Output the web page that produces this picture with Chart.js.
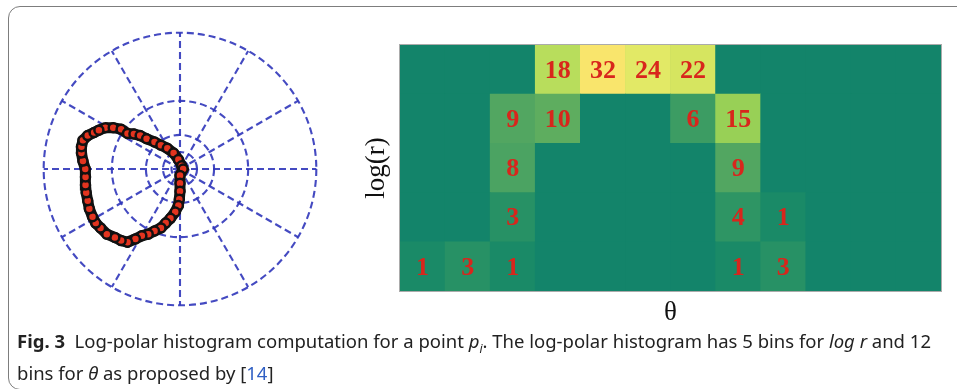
<!DOCTYPE html>
<html>
<head>
<meta charset="utf-8">
<script src="https://cdn.jsdelivr.net/npm/chart.js@4.4.1/dist/chart.umd.min.js"></script>
<style>
body{margin:0;background:#fff;width:957px;height:389px;overflow:hidden;position:relative;font-family:"Noto Sans",sans-serif}
.frame{position:absolute;left:8px;top:6px;width:1000px;height:382px;border:1.5px solid #7d7d7d;border-radius:12px}
#polar{position:absolute;left:30px;top:19px}
#hist{position:absolute;left:360px;top:35px}
.caption{position:absolute;left:17px;top:329px;font-size:18.5px;line-height:24px;color:#222;white-space:nowrap}
.caption b{font-weight:700}
.caption .ref{color:#2f5fc4}
</style>
</head>
<body>
<div class="frame"></div>
<canvas id="polar" width="300" height="300"></canvas>
<canvas id="hist" width="590" height="295"></canvas>
<div class="caption" id="caption"><b>Fig. 3</b>&nbsp; Log-polar histogram computation for a point <i>p<sub style="font-size:12px">i</sub></i>. The log-polar histogram has 5 bins for <i>log r</i> and 12<br>bins for <i>θ</i> as proposed by [<span class="ref">14</span>]</div>
<script>
// contour of the shape (outer ring = 100)
const contourX = [-54.8,-49,-43.2,-38.5,-33.8,-29.2,-24.5,-18.7,-14,-9.3,-4.7,-1.2,1.2,2.3,0,0,0,-0.5,-1.2,-3.5,-7,-10.5,-14,-18.7,-23.3,-28,-32.7,-38.5,-43.2,-47.8,-53.7,-58.3,-61.8,-64.2,-66.5,-67.7,-68.8,-69.3,-69.3,-69.5,-71.2,-72.3,-72.3,-71.2,-67.7,-63,-59.5];
const contourY = [30.3,30.3,29.2,26.1,25.7,24.5,22.2,19.8,17.5,15.2,11.7,7,2.3,0,-4.7,-10.5,-16.3,-22.2,-26.8,-31.5,-36.2,-39.7,-43.2,-45.5,-47.8,-49,-51.3,-53.7,-52.5,-50.2,-47.8,-43.2,-39.7,-35,-29.2,-23.3,-17.5,-11.7,-5.8,0,5.8,11.7,16.3,21,24.5,26.8,28.5];
const ringRadii = [6.25, 12.5, 25, 50, 100];
const spokeAngles = [0, 30, 60, 90, 120, 150, 180, 210, 240, 270, 300, 330];

// histogram: 12 theta bins, 5 log r bins (r1 = bottom row)
const thetaBins = ['1','2','3','4','5','6','7','8','9','10','11','12'];
const logRBins = ['1','2','3','4','5'];
const countsR1 = [1,3,1,0,0,0,0,1,3,0,0,0];
const countsR2 = [0,0,3,0,0,0,0,4,1,0,0,0];
const countsR3 = [0,0,8,0,0,0,0,9,0,0,0,0];
const countsR4 = [0,0,9,10,0,0,6,15,0,0,0,0];
const countsR5 = [0,0,0,18,32,24,22,0,0,0,0,0];

const colorStops = [
    [0, [19,132,106]], [1, [26,138,103]], [4, [46,149,100]], [9, [82,166,97]],
    [15, [152,208,86]], [18, [184,221,92]], [22, [214,229,96]], [24, [226,233,102]], [32, [249,229,108]]
];
function cellColor(v){
    for (let i = 1; i < colorStops.length; i++) {
        const [v1, c1] = colorStops[i];
        const [v0, c0] = colorStops[i-1];
        if (v <= v1) {
            const t = (v - v0) / (v1 - v0);
            return 'rgb(' + c0.map((c, k) => Math.round(c + (c1[k]-c)*t)).join(',') + ')';
        }
    }
    return 'rgb(249,229,108)';
}

const polarGrid = {
    id: 'polarGrid',
    beforeDatasetsDraw(chart){
        const {ctx, scales:{x, y}} = chart;
        const cx = x.getPixelForValue(0), cy = y.getPixelForValue(0);
        ctx.save();
        ctx.strokeStyle = 'rgba(48,54,186,0.9)';
        ctx.lineWidth = 2.1;
        ctx.setLineDash([7,4]);
        ringRadii.forEach(r => {
            ctx.beginPath();
            ctx.arc(cx, cy, x.getPixelForValue(r) - cx, 0, Math.PI*2);
            ctx.stroke();
        });
        const R = ringRadii[ringRadii.length-1];
        spokeAngles.forEach(a => {
            const t = a*Math.PI/180;
            ctx.beginPath();
            ctx.moveTo(cx, cy);
            ctx.lineTo(x.getPixelForValue(R*Math.cos(t)), y.getPixelForValue(R*Math.sin(t)));
            ctx.stroke();
        });
        ctx.restore();
    }
};

const contour = contourX.map((v, i) => ({x: v, y: contourY[i]}));

new Chart(document.getElementById('polar'), {
    type: 'scatter',
    data: {
        datasets: [
            {
                data: contour,
                backgroundColor: '#e3341f',
                borderColor: '#111',
                borderWidth: 2.5,
                pointRadius: 4.5,
                clip: false
            },
            {
                data: contour.concat([contour[0]]),
                showLine: true,
                borderColor: '#111',
                borderWidth: 11,
                pointRadius: 0,
                clip: false
            }
        ]
    },
    options: {
        responsive: false,
        animation: false,
        layout: {padding: 0},
        plugins: {legend: {display: false}, tooltip: {enabled: false}},
        scales: {
            x: {type: 'linear', min: -104.9, max: 104.9, display: false},
            y: {type: 'linear', min: -104.9, max: 104.9, display: false}
        }
    },
    plugins: [polarGrid]
});

const cellLabels = {
    id: 'cellLabels',
    beforeDatasetsDraw(chart){
        const {ctx, chartArea:a} = chart;
        ctx.save();
        ctx.fillStyle = cellColor(0);
        ctx.fillRect(a.left, a.top, a.right-a.left, a.bottom-a.top);
        ctx.restore();
    },
    afterDatasetsDraw(chart){
        const {ctx, chartArea:a} = chart;
        ctx.save();
        ctx.strokeStyle = 'rgba(150,150,150,0.8)';
        ctx.lineWidth = 1;
        ctx.strokeRect(a.left-0.5, a.top-0.5, a.right-a.left+1, a.bottom-a.top+1);
        ctx.font = 'bold 26px "Liberation Serif", "Times New Roman", serif';
        ctx.fillStyle = '#d8261c';
        ctx.textAlign = 'center';
        ctx.textBaseline = 'middle';
        chart.data.datasets.forEach((ds, i) => {
            chart.getDatasetMeta(i).data.forEach((bar, j) => {
                const v = ds.counts[j];
                if (v > 0) ctx.fillText(String(v), bar.x, (bar.y + bar.base)/2 + 1.5);
            });
        });
        ctx.fillStyle = '#111';
        ctx.font = '27px "Liberation Serif", "Times New Roman", serif';
        ctx.fillText('θ', (a.left+a.right)/2, a.bottom + 22);
        ctx.translate(a.left - 23, (a.top+a.bottom)/2);
        ctx.rotate(-Math.PI/2);
        ctx.fillText('log(r)', 0, 0);
        ctx.restore();
    }
};

const rows = [countsR1, countsR2, countsR3, countsR4, countsR5];
new Chart(document.getElementById('hist'), {
    type: 'bar',
    data: {
        labels: thetaBins,
        datasets: rows.map((row, i) => ({
            label: 'log r bin ' + logRBins[i],
            data: thetaBins.map(() => [i, i+1]),
            counts: row,
            backgroundColor: row.map(cellColor),
            borderWidth: 0,
            grouped: false,
            categoryPercentage: 1,
            barPercentage: 1
        }))
    },
    options: {
        responsive: false,
        animation: false,
        layout: {padding: {left: 40, right: 9, top: 10, bottom: 39}},
        plugins: {legend: {display: false}, tooltip: {enabled: false}},
        scales: {
            x: {display: false},
            y: {display: false, min: 0, max: logRBins.length}
        }
    },
    plugins: [cellLabels]
});
</script>
</body>
</html>
